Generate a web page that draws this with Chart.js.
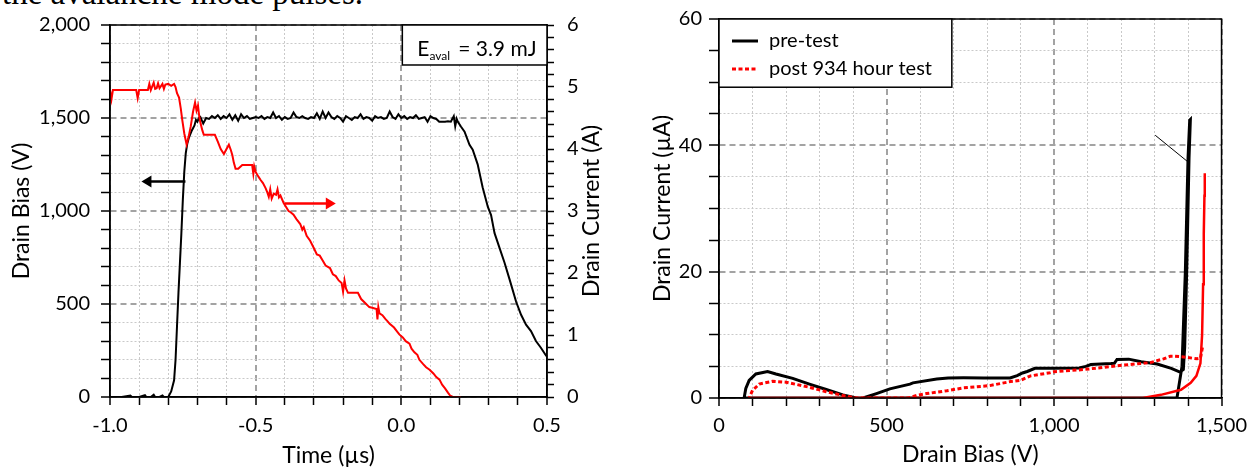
<!DOCTYPE html>
<html>
<head>
<meta charset="utf-8">
<script src="https://cdn.jsdelivr.net/npm/chart.js@4.4.0/dist/chart.umd.min.js"></script>
<style>
  body { margin: 0; background: #fff; width: 1255px; height: 470px; overflow: hidden; position: relative; }
  #cut { position: absolute; left: 2px; top: -23px; font: 33px/1 'Liberation Serif', serif; white-space: nowrap; color: #000; }
  #pulse { position: absolute; left: 0; top: 0; }
  #sweep { position: absolute; left: 630px; top: 0; }
</style>
</head>
<body>
<div id="cut">the avalanche mode pulses.</div>
<canvas id="pulse" width="625" height="470"></canvas>
<canvas id="sweep" width="625" height="470"></canvas>
<script>
// ---- left: avalanche pulse, drain bias (V) and drain current (A) vs time (us)
const biasTime = [-1.0, -0.96, -0.93, -0.925, -0.9, -0.88, -0.875, -0.86, -0.85, -0.845, -0.83, -0.82, -0.815, -0.8,
  -0.79, -0.78, -0.775, -0.77, -0.765, -0.76, -0.755, -0.75, -0.745, -0.74, -0.735, -0.73, -0.725, -0.72, -0.715, -0.71, -0.705, -0.7, -0.695,
  -0.69, -0.68, -0.67, -0.66, -0.65, -0.64, -0.63, -0.62, -0.61, -0.6,
  -0.59, -0.58, -0.57, -0.56, -0.55, -0.54, -0.53, -0.52, -0.51, -0.5,
  -0.49, -0.48, -0.47, -0.46, -0.45, -0.44, -0.43, -0.42, -0.41, -0.4,
  -0.39, -0.38, -0.37, -0.36, -0.35, -0.34, -0.33, -0.32, -0.31, -0.3,
  -0.29, -0.28, -0.27, -0.26, -0.25, -0.24, -0.23, -0.22, -0.21, -0.2,
  -0.19, -0.18, -0.17, -0.16, -0.15, -0.14, -0.13, -0.12, -0.11, -0.1,
  -0.09, -0.08, -0.07, -0.06, -0.05, -0.04, -0.03, -0.02, -0.01, 0.0,
  0.01, 0.02, 0.03, 0.04, 0.05, 0.06, 0.07, 0.08, 0.09, 0.1,
  0.11, 0.12, 0.13, 0.14, 0.15, 0.16, 0.17, 0.18,
  0.185, 0.19, 0.194, 0.205, 0.217, 0.234, 0.245, 0.262, 0.279, 0.297, 0.308, 0.32, 0.337, 0.354, 0.371,
  0.394, 0.411, 0.428, 0.445, 0.462, 0.479, 0.497, 0.51];
const biasVolts = [0, 0, 8, 0, 0, 10, 0, 0, 12, 0, 0, 8, 0, 0,
  30, 90, 200, 380, 560, 720, 880, 1060, 1210, 1310, 1360, 1390, 1410, 1430, 1445, 1460, 1490, 1480, 1500,
  1505, 1470, 1500, 1495, 1510, 1500, 1515, 1495, 1510, 1500,
  1520, 1490, 1515, 1485, 1520, 1500, 1510, 1495, 1500, 1505,
  1500, 1510, 1495, 1505, 1500, 1530, 1500, 1510, 1490, 1505,
  1495, 1500, 1530, 1505, 1500, 1510, 1500, 1495, 1505, 1500,
  1525, 1495, 1535, 1500, 1530, 1505, 1495, 1510, 1500, 1480,
  1510, 1500, 1490, 1505, 1500, 1520, 1495, 1505, 1500, 1485,
  1510, 1500, 1505, 1495, 1500, 1535, 1505, 1495, 1520, 1500,
  1510, 1495, 1505, 1500, 1515, 1495, 1500, 1505, 1480, 1510,
  1500, 1495, 1480, 1480, 1480, 1482, 1480, 1510,
  1455, 1495, 1479, 1453, 1426, 1356, 1330, 1251, 1128, 1022, 978, 881, 802, 723, 635,
  512, 442, 389, 354, 301, 265, 222, 200];

const ampTime = [-1.0, -0.995, -0.99, -0.95, -0.91, -0.905, -0.9, -0.87, -0.865, -0.86, -0.85, -0.845, -0.84, -0.835, -0.83,
  -0.82, -0.815, -0.81, -0.8, -0.79, -0.78, -0.775, -0.77, -0.763, -0.757, -0.752, -0.745, -0.737, -0.73, -0.723,
  -0.715, -0.708, -0.703, -0.698, -0.693, -0.689, -0.683, -0.678, -0.66, -0.64, -0.63, -0.62, -0.609, -0.6, -0.592,
  -0.585, -0.58, -0.575, -0.569, -0.56, -0.546, -0.53, -0.512, -0.508, -0.505, -0.5, -0.49, -0.483, -0.475, -0.466,
  -0.46, -0.455, -0.45, -0.445, -0.438, -0.43, -0.425, -0.42, -0.415, -0.404, -0.395, -0.387, -0.38, -0.37, -0.36,
  -0.347, -0.34, -0.335, -0.325, -0.313, -0.3, -0.29, -0.28, -0.27, -0.26, -0.245, -0.235, -0.225, -0.215, -0.205,
  -0.2, -0.195, -0.19, -0.183, -0.17, -0.149, -0.138, -0.125, -0.11, -0.1, -0.085, -0.082, -0.079, -0.075, -0.065,
  -0.055, -0.047, -0.04, -0.025, -0.015, -0.007, 0.005, 0.015, 0.028, 0.035, 0.045, 0.055, 0.062, 0.075, 0.085,
  0.097, 0.11, 0.12, 0.131, 0.14, 0.15, 0.16, 0.168, 0.177, 0.205];
const ampValues = [4.95, 4.8, 4.95, 4.95, 4.95, 4.82, 4.95, 4.95, 5.05, 4.95, 5.07, 4.97, 4.98, 5.06, 4.98,
  5.05, 4.97, 5.04, 5.05, 5.02, 5.05, 5.0, 4.9, 4.83, 4.65, 4.47, 4.25, 4.07, 4.2, 4.36,
  4.6, 4.75, 4.62, 4.7, 4.5, 4.41, 4.3, 4.23, 4.23, 4.23, 4.12, 4.0, 3.92, 4.0, 4.07,
  3.98, 3.9, 3.78, 3.68, 3.68, 3.74, 3.74, 3.74, 3.6, 3.72, 3.63, 3.55, 3.5, 3.45, 3.37,
  3.3, 3.23, 3.35, 3.2, 3.28, 3.26, 3.35, 3.22, 3.25, 3.13, 3.06, 3.0, 2.98, 2.94, 2.87,
  2.79, 2.7, 2.74, 2.6, 2.52, 2.4, 2.3, 2.28, 2.2, 2.12, 2.08, 1.98, 1.95, 1.88, 1.84,
  1.7, 1.88, 1.75, 1.68, 1.68, 1.68, 1.58, 1.52, 1.45, 1.44, 1.42, 1.25, 1.45, 1.35, 1.32,
  1.26, 1.22, 1.18, 1.12, 1.06, 1.01, 0.96, 0.9, 0.86, 0.78, 0.72, 0.68, 0.6, 0.53, 0.48,
  0.44, 0.38, 0.32, 0.28, 0.2, 0.14, 0.07, 0.02, 0, 0];

// ---- right: I-V sweeps, drain current (uA) vs drain bias (V)
const preBias = [75, 1367, 1382, 1392, 1400, 1405, 1407, 1403, 1396, 1390, 1386, 1376, 1350, 1308, 1260, 1223, 1188,
  1180, 1170, 1110, 1095, 1075, 1001, 943, 920, 906, 890, 869, 790, 730, 684, 650, 579, 570, 510, 470, 430,
  410, 370, 320, 270, 220, 170, 145, 110, 90, 80, 75];
const preCurr = [0, 0, 5, 20, 38, 44, 44.1, 38, 20, 8, 4.5, 4.1, 4.7, 5.37, 5.74, 6.15, 6.1,
  5.5, 5.45, 5.3, 5.0, 4.75, 4.7, 4.7, 4.2, 3.96, 3.55, 3.18, 3.18, 3.2, 3.18, 3.0, 2.4, 2.2, 1.45, 0.7, 0,
  0, 0.5, 1.35, 2.2, 3.1, 3.8, 4.2, 3.8, 2.8, 1.5, 0];
const preStrayBias = [1302, 1397];
const preStrayCurr = [41.6, 37.5];

const postLowBias = [90, 1265, 1319, 1379, 1408, 1425, 1437, 1442, 1445, 1447, 1449, 1450];
const postLowCurr = [0, 0, 0.5, 1.3, 2.4, 3.5, 5.5, 10, 18, 26, 32, 35.6];
const postUpBias = [1443, 1437, 1427, 1400, 1387, 1360, 1347, 1327, 1287, 1188, 1088, 1001, 988, 930, 900, 870,
  807, 730, 680, 620, 590, 565, 410, 370, 320, 270, 200, 160, 120, 100, 90];
const postUpCurr = [8, 6.3, 6.2, 6.4, 6.5, 6.6, 6.6, 6.2, 5.6, 5.1, 4.5, 4.17, 4.0, 3.5, 2.8, 2.6,
  1.95, 1.6, 1.15, 0.7, 0.4, 0, 0, 0.4, 1.0, 1.7, 2.5, 2.65, 2.2, 1.2, 0];

const xy = (xs, ys) => xs.map((x, i) => ({ x: x, y: ys[i] }));

Chart.defaults.font.family = 'Lato';
Chart.defaults.font.size = 20;
Chart.defaults.color = '#000';
Chart.defaults.animation = false;
const titleFont = { size: 23 };

const near = (v, step) => Math.abs(v / step - Math.round(v / step)) < 1e-6;

// dotted minor grid, dashed major grid
function grid(step, tickLength) {
  return {
    color: c => c.tick ? (near(c.tick.value, step) ? '#a3a3a3' : '#c9c9c9') : '#c9c9c9',
    lineWidth: c => c.tick && near(c.tick.value, step) ? 2 : 1,
    tickColor: '#000',
    tickWidth: 1.5,
    tickLength: tickLength,
    tickBorderDash: []
  };
}
function border(step) {
  return {
    color: '#000',
    width: 1.5,
    dash: c => c.tick ? (near(c.tick.value, step) ? [6, 4] : [2, 2]) : []
  };
}

const frame = {
  id: 'frame',
  afterDatasetsDraw(chart) {
    const { ctx, chartArea: a } = chart;
    ctx.save();
    ctx.strokeStyle = '#000';
    ctx.lineWidth = 1.5;
    ctx.strokeRect(a.left, a.top, a.right - a.left, a.bottom - a.top);
    ctx.restore();
  }
};

// pointer arrows on the pulse plot (data units)
const arrowNotes = [
  { from: -0.741, to: -0.892, at: 1158, axis: 'y', color: '#000' },
  { from: -0.40, to: -0.225, at: 3.12, axis: 'y1', color: '#ff0000' }
];

const pulseNotes = {
  id: 'pulseNotes',
  afterDatasetsDraw(chart) {
    const { ctx, scales, chartArea: a } = chart;
    ctx.save();
    arrowNotes.forEach(n => {
      const x0 = scales.x.getPixelForValue(n.from);
      const x1 = scales.x.getPixelForValue(n.to);
      const y = scales[n.axis].getPixelForValue(n.at);
      const d = Math.sign(x1 - x0);
      ctx.strokeStyle = n.color;
      ctx.fillStyle = n.color;
      ctx.lineWidth = 2.5;
      ctx.beginPath();
      ctx.moveTo(x0, y);
      ctx.lineTo(x1 - d * 8, y);
      ctx.stroke();
      ctx.beginPath();
      ctx.moveTo(x1, y);
      ctx.lineTo(x1 - d * 10, y - 6);
      ctx.lineTo(x1 - d * 10, y + 6);
      ctx.closePath();
      ctx.fill();
    });

    // E_aval box
    const bx = scales.x.getPixelForValue(0) + 1;
    const by = scales.y.getPixelForValue(1785);
    ctx.fillStyle = '#fff';
    ctx.fillRect(bx, a.top, a.right - bx, by - a.top);
    ctx.strokeStyle = '#000';
    ctx.lineWidth = 1.5;
    ctx.strokeRect(bx, a.top, a.right - bx, by - a.top);
    ctx.fillStyle = '#000';
    ctx.textBaseline = 'alphabetic';
    ctx.font = '21px Lato';
    ctx.fillText('E', bx + 15, a.top + 31);
    const ew = ctx.measureText('E').width;
    ctx.font = '12px Lato';
    ctx.fillText('aval', bx + 15 + ew, a.top + 35);
    const sw = ctx.measureText('aval').width;
    ctx.font = '21px Lato';
    ctx.fillText('= 3.9 mJ', bx + 15 + ew + sw + 8, a.top + 31);

    // right axis title, reading bottom to top
    ctx.save();
    ctx.translate(a.right + 45, (a.top + a.bottom) / 2);
    ctx.rotate(-Math.PI / 2);
    ctx.textAlign = 'center';
    ctx.textBaseline = 'middle';
    ctx.font = '23px Lato';
    ctx.fillText('Drain Current (A)', 0, 0);
    ctx.restore();
    ctx.restore();
  }
};

new Chart(document.getElementById('pulse'), {
  type: 'line',
  data: {
    datasets: [
      { label: 'Drain Current', data: xy(ampTime, ampValues), yAxisID: 'y1', borderColor: '#ff0000', borderWidth: 2, pointRadius: 0, tension: 0 },
      { label: 'Drain Bias', data: xy(biasTime, biasVolts), yAxisID: 'y', borderColor: '#000', borderWidth: 2, pointRadius: 0, tension: 0 }
    ]
  },
  options: {
    responsive: false,
    events: [],
    layout: { padding: { top: 16, left: 0, right: 0, bottom: 0 } },
    plugins: { legend: { display: false }, tooltip: { enabled: false } },
    scales: {
      x: {
        type: 'linear', min: -1, max: 0.5,
        afterFit: s => { s.height = 73; },
        ticks: { stepSize: 0.1, maxTicksLimit: 100, autoSkip: false, maxRotation: 0, padding: 9,
          callback: v => near(v, 0.5) ? (Math.abs(v) < 1e-9 ? 0 : v).toFixed(1) : '' },
        grid: grid(0.5, 8),
        border: border(0.5),
        title: { display: true, text: 'Time (µs)', padding: 1, font: titleFont }
      },
      y: {
        position: 'left', min: 0, max: 2000,
        afterFit: s => { s.width = 110; },
        ticks: { stepSize: 100, maxTicksLimit: 100, autoSkip: false, padding: 11,
          callback: v => near(v, 500) ? v.toLocaleString('en-US') : '' },
        grid: grid(500, 9),
        border: border(500),
        title: { display: true, text: 'Drain Bias (V)', padding: 8, font: titleFont }
      },
      y1: {
        position: 'right', min: 0, max: 6,
        afterFit: s => { s.width = 78; },
        ticks: { stepSize: 0.2, maxTicksLimit: 100, autoSkip: false, padding: 13,
          callback: v => near(v, 1) ? String(Math.round(v)) : '' },
        grid: { drawOnChartArea: false, tickColor: '#000', tickWidth: 1.5, tickLength: 7 },
        border: { color: '#000', width: 1.5 }
      }
    }
  },
  plugins: [frame, pulseNotes]
});

const sweepLegend = {
  id: 'sweepLegend',
  afterDatasetsDraw(chart) {
    const { ctx, chartArea: a, scales } = chart;
    const items = chart.data.datasets.filter(d => d.legendRow !== undefined)
      .sort((p, q) => p.legendRow - q.legendRow);
    const right = scales.x.getPixelForValue(695);
    const bottom = scales.y.getPixelForValue(49.2);
    ctx.save();
    ctx.fillStyle = '#fff';
    ctx.fillRect(a.left, a.top, right - a.left, bottom - a.top);
    ctx.strokeStyle = '#000';
    ctx.lineWidth = 1.5;
    ctx.strokeRect(a.left, a.top, right - a.left, bottom - a.top);
    items.forEach((d, i) => {
      const y = a.top + 22 + i * 28;
      ctx.strokeStyle = d.borderColor;
      ctx.lineWidth = 3;
      ctx.setLineDash(d.borderDash || []);
      ctx.beginPath();
      ctx.moveTo(a.left + 13, y);
      ctx.lineTo(a.left + 39, y);
      ctx.stroke();
      ctx.setLineDash([]);
      ctx.fillStyle = '#000';
      ctx.font = '20px Lato';
      ctx.textBaseline = 'middle';
      ctx.fillText(d.label, a.left + 50, y);
    });
    ctx.restore();
  }
};

new Chart(document.getElementById('sweep'), {
  type: 'line',
  data: {
    datasets: [
      { label: 'post 934 hour test', legendRow: 1, data: xy(postUpBias, postUpCurr), borderColor: '#ff0000', borderWidth: 3, borderDash: [4, 2.5], pointRadius: 0, tension: 0 },
      { label: 'post lower branch', data: xy(postLowBias, postLowCurr), borderColor: '#ff0000', borderWidth: 2.5, pointRadius: 0, tension: 0 },
      { label: 'pre-test', legendRow: 0, data: xy(preBias, preCurr), borderColor: '#000', borderWidth: 3, pointRadius: 0, tension: 0 },
      { label: 'pre stray', data: xy(preStrayBias, preStrayCurr), borderColor: '#000', borderWidth: 1, pointRadius: 0, tension: 0 }
    ]
  },
  options: {
    responsive: false,
    events: [],
    layout: { padding: { top: 18, left: 0, right: 33, bottom: 0 } },
    plugins: { legend: { display: false }, tooltip: { enabled: false } },
    scales: {
      x: {
        type: 'linear', min: 0, max: 1500,
        afterFit: s => { s.height = 72; },
        ticks: { stepSize: 100, maxTicksLimit: 100, autoSkip: false, maxRotation: 0, padding: 8,
          callback: v => near(v, 500) ? v.toLocaleString('en-US') : '' },
        grid: grid(500, 8),
        border: border(500),
        title: { display: true, text: 'Drain Bias (V)', padding: 2, font: titleFont }
      },
      y: {
        min: 0, max: 60,
        afterFit: s => { s.width = 89; },
        ticks: { stepSize: 5, maxTicksLimit: 100, autoSkip: false, padding: 7,
          callback: v => near(v, 20) ? String(v) : '' },
        grid: grid(20, 10),
        border: border(20),
        title: { display: true, text: 'Drain Current (µA)', padding: 19, font: titleFont }
      }
    }
  },
  plugins: [frame, sweepLegend]
});
</script>
</body>
</html>
